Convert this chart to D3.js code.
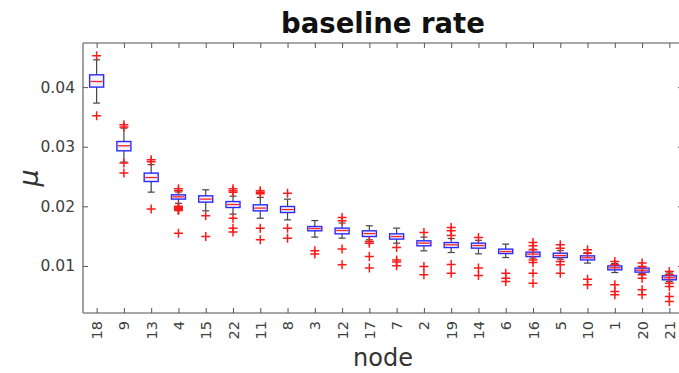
<!DOCTYPE html>
<html>
<head>
<meta charset="utf-8">
<script src="https://cdn.jsdelivr.net/npm/d3@7"></script>
<style>
  html, body { margin: 0; padding: 0; background: #fff; }
  svg { display: block; }
</style>
</head>
<body>
<svg id="chart" width="679" height="373"></svg>
<script>
// ---- data ----
const nodes = ["18","9","13","4","15","22","11","8","3","12","17","7","2","19","14","6","16","5","10","1","20","21"];
const medians = [0.04094,0.03015,0.02483,0.02159,0.02121,0.0203,0.0197,0.01946,0.01627,0.01594,0.01543,0.01493,0.01382,0.01354,0.01342,0.01241,0.01198,0.01174,0.01136,0.00968,0.00929,0.0080];
const q1s = [0.0400,0.02931,0.02416,0.02121,0.0207,0.0198,0.01924,0.01896,0.01589,0.01538,0.01493,0.0145,0.01337,0.01308,0.01298,0.01208,0.01157,0.01141,0.0110,0.00934,0.00896,0.00767];
const q3s = [0.04206,0.03087,0.02557,0.02193,0.02176,0.0208,0.02025,0.01997,0.01661,0.01634,0.01589,0.01538,0.01421,0.01392,0.01382,0.01282,0.01231,0.01214,0.01169,0.01001,0.00963,0.00834];
const whiskerLow = [0.03732,0.02742,0.02238,0.0205,0.01924,0.01869,0.0180,0.01773,0.01483,0.01466,0.01438,0.01382,0.01253,0.01225,0.01203,0.01141,0.01131,0.01114,0.01047,0.00889,0.0087,0.0074];
const whiskerHigh = [0.04458,0.03312,0.0270,0.0224,0.02277,0.0217,0.0215,0.0212,0.01761,0.0172,0.01673,0.01634,0.01483,0.0146,0.0143,0.01366,0.0128,0.01258,0.0122,0.0104,0.0098,0.0088];
const outliers = [
  [0.04525,0.03518],
  [0.03367,0.03329,0.02725,0.02557],
  [0.0278,0.02747,0.01953],
  [0.02293,0.0226,0.0200,0.0198,0.0196,0.01945,0.0193,0.0155],
  [0.0184,0.01493],
  [0.02293,0.0226,0.02238,0.0180,0.01634,0.01567],
  [0.0226,0.02238,0.0221,0.01634,0.01438],
  [0.02221,0.01634,0.01466],
  [0.01253,0.01198],
  [0.01812,0.01756,0.01282,0.01018],
  [0.01409,0.01382,0.01157,0.00963],
  [0.01309,0.0110,0.01064,0.01001],
  [0.0156,0.0099,0.0085],
  [0.01644,0.01589,0.0151,0.01025,0.00879],
  [0.01476,0.00963,0.00839],
  [0.00879,0.00795,0.00738],
  [0.01392,0.01337,0.0127,0.0110,0.01057,0.00879,0.00711],
  [0.01354,0.01298,0.01074,0.01018,0.00879],
  [0.0127,0.01214,0.00778,0.00683],
  [0.01074,0.01018,0.00683,0.0057,0.00515],
  [0.01047,0.0099,0.0085,0.00795,0.00599,0.00515],
  [0.00906,0.0085,0.00711,0.00654,0.00486,0.00402]
];
const yTicks = [0.01, 0.02, 0.03, 0.04];
const title = "baseline rate";
const xLabel = "node";
const yLabel = "\u03bc";

// ---- layout ----
const svg = d3.select("#chart");
const L = 83, R = 683, T = 43, B = 313;

const x = d3.scalePoint().domain(nodes).range([L, R]).padding(0.5);
const y = d3.scaleLinear().domain([0.0021, 0.0474]).range([B, T]);

const axisColor = "#8a8a8a";
const textColor = "#404040";
const fontFam = "'DejaVu Sans', sans-serif";

// axes (MATLAB-like box with inward ticks)
const gLeft = svg.append("g").attr("transform", `translate(${L},0)`)
  .call(d3.axisLeft(y).tickValues(yTicks).tickFormat(d3.format(".2f")).tickSizeInner(-5).tickSizeOuter(0).tickPadding(8));
const gRight = svg.append("g").attr("transform", `translate(${R},0)`)
  .call(d3.axisRight(y).tickValues(yTicks).tickFormat("").tickSizeInner(-5).tickSizeOuter(0));
const gTop = svg.append("g").attr("transform", `translate(0,${T})`)
  .call(d3.axisTop(x).tickFormat("").tickSizeInner(-5).tickSizeOuter(0));
const gBottom = svg.append("g").attr("transform", `translate(0,${B})`)
  .call(d3.axisBottom(x).tickSizeInner(-5).tickSizeOuter(0).tickPadding(8));

[gLeft, gRight, gTop, gBottom].forEach(g => {
  g.select(".domain").attr("stroke", axisColor).attr("stroke-width", 1.6);
  g.selectAll(".tick line").attr("stroke", "#555").attr("stroke-width", 1);
  g.selectAll("text").attr("fill", textColor).style("font-family", fontFam);
});
gLeft.select(".domain").attr("d", `M0,${T}V${B}`);
gRight.select(".domain").attr("d", `M0,${T}V${B}`);
gTop.select(".domain").attr("d", `M${L},0H${R}`);
gBottom.select(".domain").attr("d", `M${L},0H${R}`);

gLeft.selectAll("text").style("font-size", "15.5px");
gBottom.selectAll("text")
  .style("font-size", "14.5px")
  .attr("transform", "rotate(-90)")
  .attr("text-anchor", "end")
  .attr("x", -8)
  .attr("y", 0)
  .attr("dy", "0.35em");

// boxes
const data = nodes.map((n, i) => ({
  n, med: medians[i], q1: q1s[i], q3: q3s[i], lo: whiskerLow[i], hi: whiskerHigh[i], out: outliers[i]
}));
const bw = 14, cw = 7;
const g = svg.append("g");
data.forEach(d => {
  const cx = x(d.n);
  g.append("line").attr("x1", cx).attr("x2", cx).attr("y1", y(d.q3)).attr("y2", y(d.hi))
    .attr("stroke", "#444").attr("stroke-width", 1.2);
  g.append("line").attr("x1", cx).attr("x2", cx).attr("y1", y(d.q1)).attr("y2", y(d.lo))
    .attr("stroke", "#444").attr("stroke-width", 1.2);
  g.append("line").attr("x1", cx - cw/2).attr("x2", cx + cw/2).attr("y1", y(d.hi)).attr("y2", y(d.hi))
    .attr("stroke", "#444").attr("stroke-width", 1.2);
  g.append("line").attr("x1", cx - cw/2).attr("x2", cx + cw/2).attr("y1", y(d.lo)).attr("y2", y(d.lo))
    .attr("stroke", "#444").attr("stroke-width", 1.2);
  g.append("rect").attr("x", cx - bw/2).attr("y", y(d.q3)).attr("width", bw).attr("height", y(d.q1) - y(d.q3))
    .attr("fill", "#f4f4ff").attr("stroke", "#2a2aff").attr("stroke-width", 1.4);
  g.append("line").attr("x1", cx - bw/2 + 1).attr("x2", cx + bw/2 - 1).attr("y1", y(d.med)).attr("y2", y(d.med))
    .attr("stroke", "#ff2020").attr("stroke-width", 1.3);
  d.out.forEach(v => {
    const py = y(v), s = 4.5;
    g.append("path").attr("d", `M${cx - s},${py}H${cx + s}M${cx},${py - s}V${py + s}`)
      .attr("stroke", "#ff1a1a").attr("stroke-width", 1.5).attr("fill", "none");
  });
});

// title and labels
svg.append("text").attr("x", 383).attr("y", 33).attr("text-anchor", "middle")
  .style("font-family", fontFam).style("font-size", "27.5px").style("font-weight", "bold")
  .attr("fill", "#111").text(title);
svg.append("text").attr("x", 383).attr("y", 366).attr("text-anchor", "middle")
  .style("font-family", fontFam).style("font-size", "24px")
  .attr("fill", "#333").text(xLabel);
svg.append("text").attr("transform", "translate(38,178) rotate(-90)").attr("text-anchor", "middle")
  .style("font-family", fontFam).style("font-size", "27px").style("font-style", "italic")
  .attr("fill", "#333").text(yLabel);
</script>
</body>
</html>
